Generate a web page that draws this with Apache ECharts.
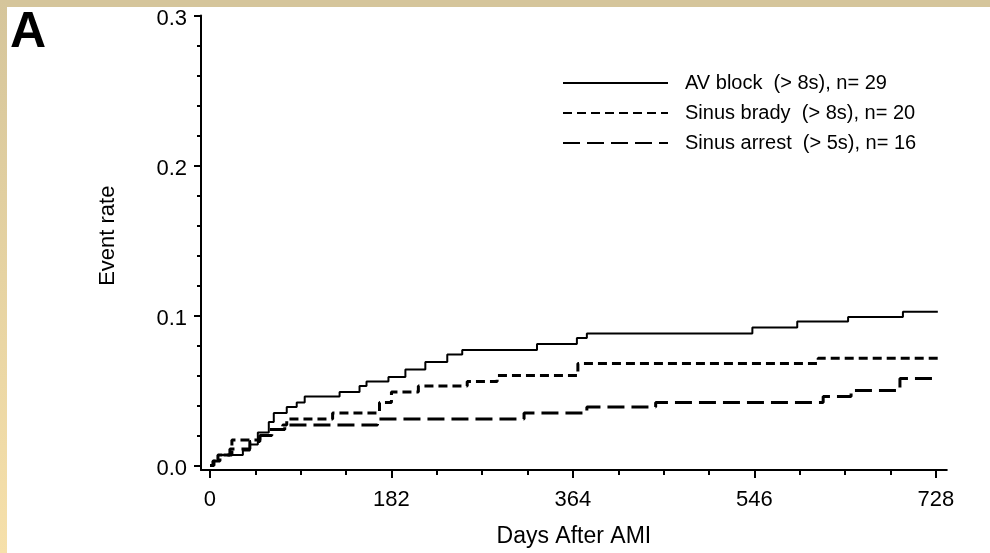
<!DOCTYPE html>
<html>
<head>
<meta charset="utf-8">
<script src="https://cdn.jsdelivr.net/npm/echarts@6/dist/echarts.min.js"></script>
<style>
  html, body { margin: 0; padding: 0; background: #fff; }
  #wrap { position: relative; width: 990px; height: 553px; overflow: hidden; }
  #chart { position: absolute; left: 0; top: 0; width: 990px; height: 553px; }
  #topBar { position: absolute; left: 0; top: 0; width: 990px; height: 7px; background: #d5c59b; }
  #leftBar { position: absolute; left: 0; top: 0; width: 7px; height: 553px;
             background: linear-gradient(to bottom, #d5c59b 0%, #e6d3a2 50%, #f6e0aa 100%); }
</style>
</head>
<body>
<div id="wrap">
  <div id="chart"></div>
  <div id="topBar"></div>
  <div id="leftBar"></div>
</div>
<script>
// Cumulative event rate, [day after AMI, rate] at each step
const avBlock = [
  [0, 0], [3, 0.003], [8, 0.007], [33, 0.010], [40, 0.014], [48, 0.022],
  [59, 0.029], [64, 0.035], [77, 0.039], [87, 0.042], [95, 0.046],
  [130, 0.049], [150, 0.053], [157, 0.056], [179, 0.059], [196, 0.064],
  [216, 0.069], [238, 0.074], [253, 0.077], [328, 0.081], [368, 0.085],
  [378, 0.088], [544, 0.092], [589, 0.096], [640, 0.099], [695, 0.1025],
  [730, 0.1025]
];
const sinusBrady = [
  [0, 0], [3, 0.003], [8, 0.007], [22, 0.017], [50, 0.020], [62, 0.024],
  [73, 0.027], [77, 0.031], [123, 0.035], [170, 0.042], [182, 0.049],
  [209, 0.053], [258, 0.056], [288, 0.060], [369, 0.068], [610, 0.0715],
  [730, 0.0715]
];
const sinusArrest = [
  [0, 0], [4, 0.003], [10, 0.007], [20, 0.011], [40, 0.016], [50, 0.020],
  [58, 0.024], [75, 0.027], [168, 0.031], [315, 0.035], [378, 0.039],
  [447, 0.042], [615, 0.046], [643, 0.050], [692, 0.058], [730, 0.058]
];

const seriesNames = [
  'AV block  (> 8s), n= 29',
  'Sinus brady  (> 8s), n= 20',
  'Sinus arrest  (> 5s), n= 16'
];

// Axis ticks
const xMajorTicks = [0, 182, 364, 546, 728];
const xMinorTicks = [45.5, 91, 136.5, 227.5, 273, 318.5, 409.5, 455, 500.5, 591.5, 637, 682.5];
const yMajorTicks = [0, 0.1, 0.2, 0.3];
const yMinorTicks = [0.02, 0.04, 0.06, 0.08, 0.12, 0.14, 0.16, 0.18, 0.22, 0.24, 0.26, 0.28];

const FONT = "'Liberation Sans', Arial, Helvetica, sans-serif";
const X_MIN = -9, X_MAX = 739, Y_MIN = -0.003, Y_MAX = 0.3;

const chart = echarts.init(document.getElementById('chart'), null, { renderer: 'canvas' });

const axisLineOn = { onZero: false, lineStyle: { color: '#000', width: 2 } };
const axisLineOff = { show: false, onZero: false };

const option = {
  backgroundColor: '#fff',
  animation: false,
  grid: { left: 201, top: 15.4, right: 43.2, bottom: 82.5, containLabel: false },
  xAxis: [
    {
      type: 'value', min: X_MIN, max: X_MAX, position: 'bottom', splitLine: { show: false },
      axisLine: axisLineOn,
      name: 'Days After AMI', nameLocation: 'middle', nameGap: 55,
      nameTextStyle: { fontFamily: FONT, fontSize: 23, color: '#000' },
      axisTick: { show: true, length: 8, inside: false, customValues: xMajorTicks,
                  lineStyle: { color: '#000', width: 2 } },
      axisLabel: { show: true, customValues: xMajorTicks, margin: 19,
                   fontFamily: FONT, fontSize: 22, color: '#000',
                   formatter: v => String(v) }
    },
    {
      type: 'value', min: X_MIN, max: X_MAX, position: 'bottom', splitLine: { show: false },
      axisLine: axisLineOff,
      axisTick: { show: true, length: 5, inside: false, customValues: xMinorTicks,
                  lineStyle: { color: '#000', width: 2 } },
      axisLabel: { show: false }
    }
  ],
  yAxis: [
    {
      type: 'value', min: Y_MIN, max: Y_MAX, position: 'left', splitLine: { show: false },
      axisLine: axisLineOn,
      name: 'Event rate', nameLocation: 'middle', nameGap: 82, nameRotate: 90,
      nameTextStyle: { fontFamily: FONT, fontSize: 22, color: '#000', padding: [0, 0, 0, 14] },
      axisTick: { show: true, length: 7, inside: false, customValues: yMajorTicks,
                  lineStyle: { color: '#000', width: 2 } },
      axisLabel: { show: true, customValues: yMajorTicks, margin: 14,
                   formatter: v => '{v|' + v.toFixed(1) + '}',
                   rich: { v: { fontFamily: FONT, fontSize: 22, color: '#000', padding: [7, 0, 0, 0] } } }
    },
    {
      type: 'value', min: Y_MIN, max: Y_MAX, position: 'left', splitLine: { show: false },
      axisLine: axisLineOff,
      axisTick: { show: true, length: 4, inside: false, customValues: yMinorTicks,
                  lineStyle: { color: '#000', width: 2 } },
      axisLabel: { show: false }
    }
  ],
  legend: {
    orient: 'vertical', left: 557, top: 67,
    itemWidth: 105, itemHeight: 14, itemGap: 8,
    itemStyle: { opacity: 0 },
    textStyle: { fontFamily: FONT, fontSize: 20, color: '#000', lineHeight: 22,
                 padding: [0, 0, 0, 12] },
    data: seriesNames
  },
  graphic: [
    { type: 'text', left: 10, top: 8,
      style: { text: 'A', fontFamily: FONT, fontSize: 50, fontWeight: 'bold', fill: '#000' } }
  ],
  series: [
    { name: seriesNames[0], type: 'line', step: 'end', data: avBlock, showSymbol: false, symbol: 'none',
      itemStyle: { color: '#000' },
      lineStyle: { color: '#000', width: 2, type: 'solid' } },
    { name: seriesNames[1], type: 'line', step: 'end', data: sinusBrady, showSymbol: false, symbol: 'none',
      itemStyle: { color: '#000' },
      lineStyle: { color: '#000', width: 3, type: [9, 5] } },
    { name: seriesNames[2], type: 'line', step: 'end', data: sinusArrest, showSymbol: false, symbol: 'none',
      itemStyle: { color: '#000' },
      lineStyle: { color: '#000', width: 3, type: [17, 7] } }
  ]
};
chart.setOption(option);
</script>
</body>
</html>
